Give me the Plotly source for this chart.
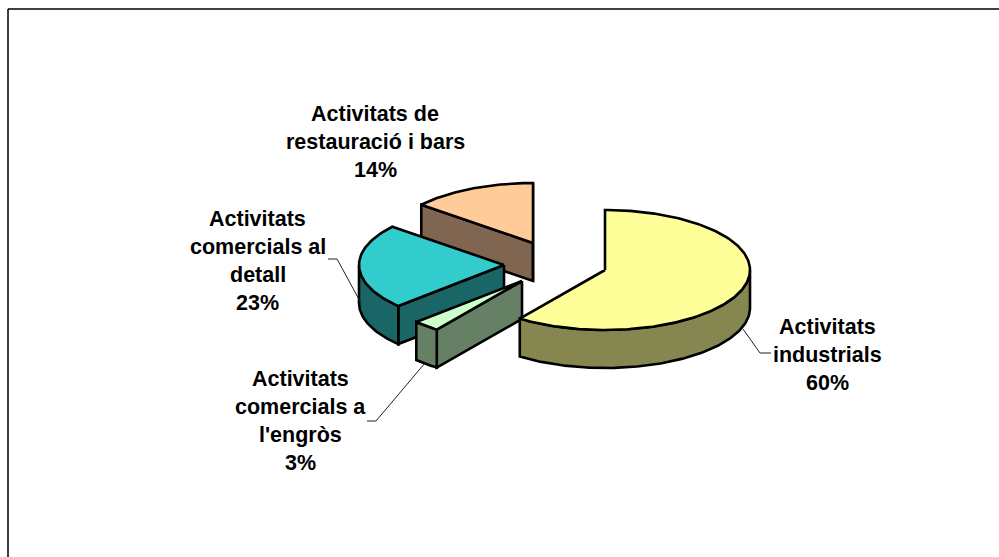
import math
import numpy as np
import plotly.graph_objects as go

# --- data ---
categories = ["Activitats industrials", "Activitats comercials a l'engròs",
              "Activitats comercials al detall", "Activitats de restauració i bars"]
values = [60, 3, 23, 14]
label_lines = [
    ["Activitats", "industrials", "60%"],
    ["Activitats", "comercials a", "l'engròs", "3%"],
    ["Activitats", "comercials al", "detall", "23%"],
    ["Activitats de", "restauració i bars", "14%"],
]
top_colors = ["#FFFF99", "#CCFFCC", "#33CCCC", "#FFCC99"]
side_colors = ["#868650", "#668066", "#1A6666", "#806650"]

# --- layout constants of the tilted pie ---
RX, RY, DEPTH = 145, 60, 38
apexes = [(605, 270), (522, 281), (504, 265), (533, 243)]
label_x = [827, 300, 257.5, 375]
label_y = [326.7, 378.7, 218.7, 113.7]
LINE_STEP = 28.2
FONT = "Liberation Sans, Arial, sans-serif"
FONT_SIZE = 21.5
leaders = [
    ([743, 760, 771], [329, 353, 353]),
    ([425, 376, 367], [363, 421, 421]),
    ([361, 337, 328], [303, 259, 259]),
]


def pt(ax, ay, deg, dz=0.0):
    a = math.radians(deg)
    return ax + RX * math.sin(a), ay - RY * math.cos(a) + dz


def arc(ax, ay, d0, d1, dz=0.0):
    n = max(2, int(abs(d1 - d0)) + 2)
    pts = [pt(ax, ay, d, dz) for d in np.linspace(d0, d1, n)]
    return [p[0] for p in pts], [p[1] for p in pts]


fig = go.Figure()


def poly(xs, ys, color, name=None):
    fig.add_trace(go.Scatter(
        x=xs + xs[:1], y=ys + ys[:1], mode="lines", fill="toself", fillcolor=color,
        line=dict(color="#000000", width=2.6, shape="linear"), showlegend=False,
        hoverinfo="text" if name else "skip", text=name,
    ))


# cumulative angles, clockwise from 12 o'clock
bounds = np.concatenate([[0], np.cumsum(values) / sum(values) * 360])
order = [3, 2, 1, 0]  # back to front

for i in order:
    a0, a1 = float(bounds[i]), float(bounds[i + 1])
    ax, ay = apexes[i]
    side = side_colors[i]
    # cut face at the start edge
    if 180 <= a0 < 360:
        x, y = pt(ax, ay, a0)
        poly([ax, x, x, ax], [ay, y, y + DEPTH, ay + DEPTH], side)
    # cut face at the end edge
    if 0 < a1 <= 180 or a1 == 360:
        x, y = pt(ax, ay, a1)
        poly([ax, x, x, ax], [ay, y, y + DEPTH, ay + DEPTH], side)
    # outer rim (front half only)
    r0, r1 = max(a0, 90), min(a1, 270)
    if r1 > r0:
        tx, ty = arc(ax, ay, r0, r1)
        bx, by = arc(ax, ay, r1, r0, DEPTH)
        poly(tx + bx, ty + by, side)
    # top face
    tx, ty = arc(ax, ay, a0, a1)
    poly([ax] + tx, [ay] + ty, top_colors[i], f"{categories[i]}: {values[i]}%")

for lx, ly in leaders:
    fig.add_trace(go.Scatter(x=lx, y=ly, mode="lines", line=dict(color="#222222", width=1),
                             showlegend=False, hoverinfo="skip"))

# frame, cut off by the picture's right and bottom edges
for x0, y0, x1, y1 in [(8, 9, 999, 9), (8, 9, 8, 557)]:
    fig.add_shape(type="line", x0=x0, y0=y0, x1=x1, y1=y1, xref="x", yref="y",
                  line=dict(color="#000000", width=1.5))

for lines, cx, cy in zip(label_lines, label_x, label_y):
    for k, line in enumerate(lines):
        fig.add_annotation(x=cx, y=cy + k * LINE_STEP, text=f"<b>{line}</b>", showarrow=False,
                           xref="x", yref="y", xanchor="center", yanchor="middle",
                           font=dict(family=FONT, size=FONT_SIZE, color="#000000"))

fig.update_layout(
    width=999, height=557, margin=dict(l=0, r=0, t=0, b=0),
    paper_bgcolor="#FFFFFF", plot_bgcolor="#FFFFFF", showlegend=False,
    xaxis=dict(range=[0, 999], visible=False, fixedrange=True),
    yaxis=dict(range=[557, 0], visible=False, fixedrange=True),
)
fig.write_html("out.html", config=dict(displayModeBar=False),
               post_script="document.body.style.margin='0';")
